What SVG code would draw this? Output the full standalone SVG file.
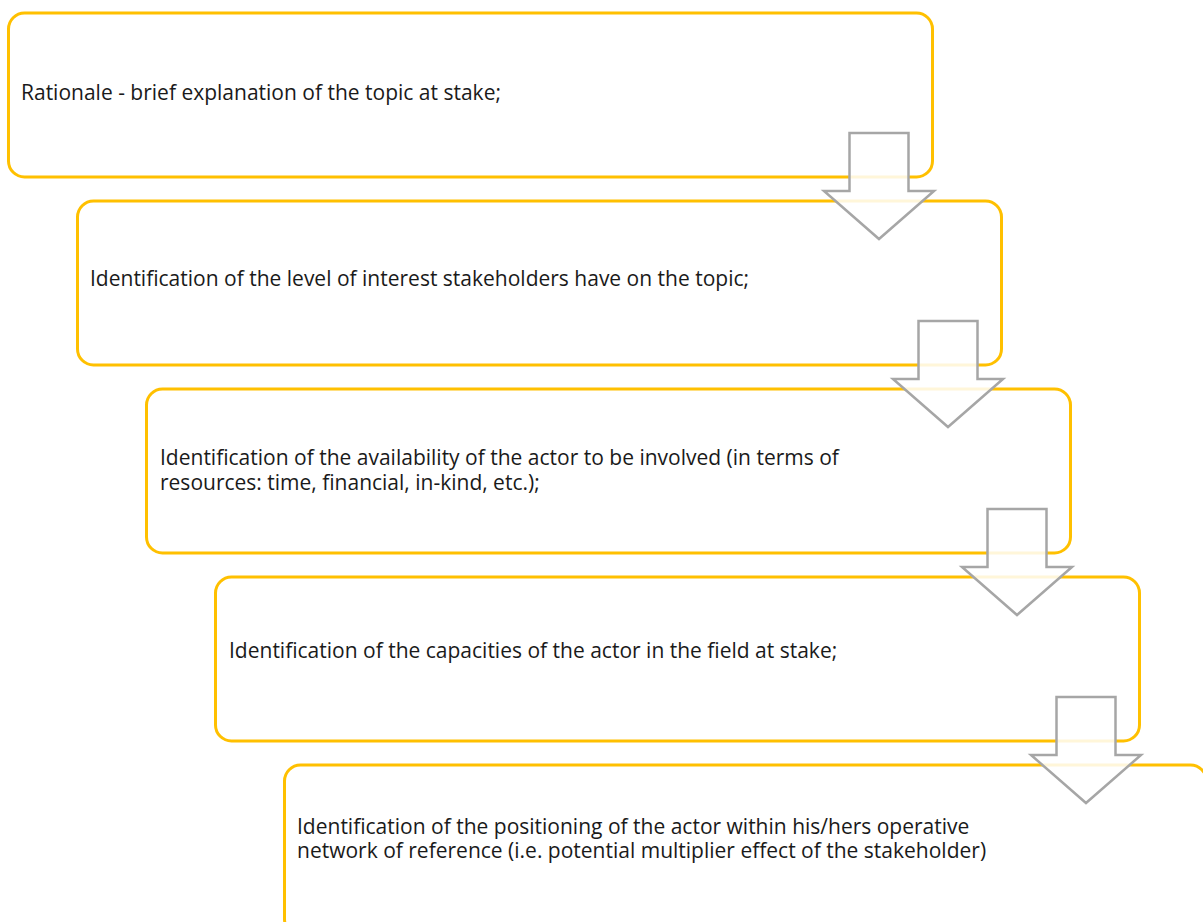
<svg xmlns="http://www.w3.org/2000/svg" width="1203" height="922" viewBox="0 0 1203 922">
  <style>
    .box { fill: #FFFFFF; stroke: #FFC000; stroke-width: 3; }
    .arrow { fill: #FFFFFF; fill-opacity: 0.85; stroke: #A6A6A6; stroke-width: 2.5; stroke-linejoin: miter; }
    .label { font-family: "Open Sans", "Liberation Sans", sans-serif; font-size: 21px; fill: #1A1A1A; }
  </style>
  <defs>
    <!-- block arrow pointing down, origin at top centre of the shaft -->
    <path id="down" d="M -29.5 0 L 29.5 0 L 29.5 58 L 55 58 L 0 106 L -55 58 L -29.5 58 Z"/>
  </defs>
  <rect width="1203" height="922" fill="#FFFFFF"/>

  <g id="step1">
    <rect class="box" x="8.5" y="13" width="924" height="164" rx="16"/>
    <text class="label" x="21" y="100">Rationale - brief explanation of the topic at stake;</text>
  </g>
  <g id="step2">
    <rect class="box" x="77.5" y="201" width="924" height="164" rx="16"/>
    <text class="label" x="90" y="286">Identification of the level of interest stakeholders have on the topic;</text>
  </g>
  <g id="step3">
    <rect class="box" x="146.5" y="389" width="924" height="164" rx="16"/>
    <text class="label" x="160" y="465">Identification of the availability of the actor to be involved (in terms of</text>
    <text class="label" x="160" y="490">resources: time, financial, in-kind, etc.);</text>
  </g>
  <g id="step4">
    <rect class="box" x="215.5" y="577" width="924" height="164" rx="16"/>
    <text class="label" x="229" y="658">Identification of the capacities of the actor in the field at stake;</text>
  </g>
  <g id="step5">
    <rect class="box" x="284.5" y="765" width="922" height="170" rx="16"/>
    <text class="label" x="297" y="834">Identification of the positioning of the actor within his/hers operative</text>
    <text class="label" x="297" y="858">network of reference (i.e. potential multiplier effect of the stakeholder)</text>
  </g>

  <g id="connectors">
    <use href="#down" class="arrow" x="879" y="133"/>
    <use href="#down" class="arrow" x="948" y="321"/>
    <use href="#down" class="arrow" x="1017" y="509"/>
    <use href="#down" class="arrow" x="1086" y="697"/>
  </g>
</svg>
